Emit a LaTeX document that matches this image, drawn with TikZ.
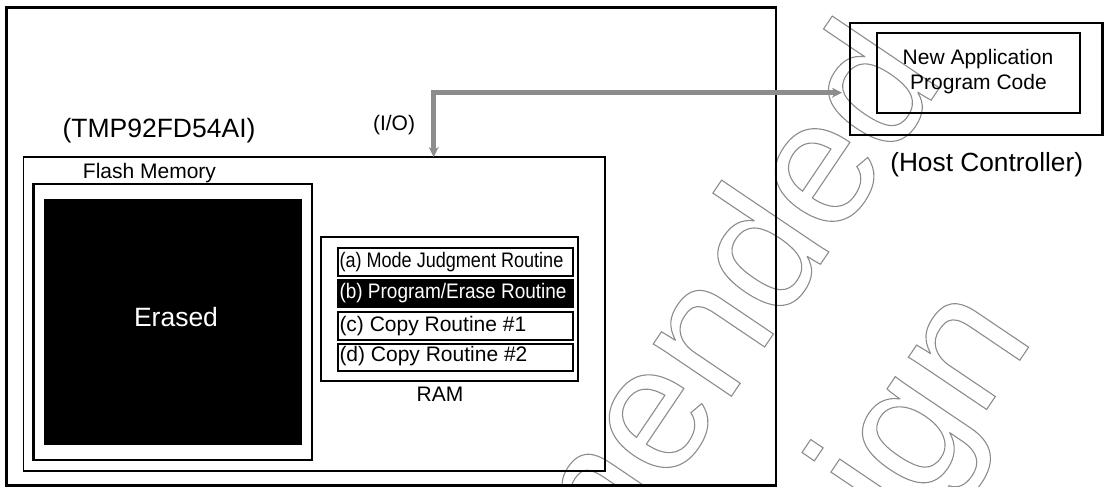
\documentclass[tikz,border=0pt]{standalone}
\usepackage{fontspec}
\setmainfont{Liberation Sans}
\usetikzlibrary{arrows.meta}
\newcommand\wmon{\special{pdf:literal 1 Tr 1.1 w}}
\newcommand\wmoff{\special{pdf:literal 0 Tr}}
\begin{document}
\begin{tikzpicture}[x=1pt,y=-1pt,
  rect/.style={inner sep=0pt, outer sep=0pt, anchor=north west},
  frame/.style={rect, draw=black, line width=2.2pt},
  chipbox/.style={rect, draw=black, line width=1.5pt},
  memframe/.style={rect, draw=black, line width=2.5pt},
  routine/.style={rect, draw=black, line width=2pt},
  codebox/.style={rect, draw=black, line width=1.3pt},
  lbl/.style={inner sep=0pt, anchor=base},
  rlbl/.style={inner sep=0pt, anchor=base west},
  fmid/.style={font=\fontsize{21}{25}\selectfont},
  fbig/.style={font=\fontsize{26.5}{31}\selectfont},
  wm/.style={inner sep=0pt, anchor=base west, rotate=56, text=black!45,
    font=\fontsize{178}{219}\selectfont},
  ioarrow/.style={draw=black!45, line width=4.5pt,
    {Stealth[length=10pt,width=10pt,inset=3pt]}-{Stealth[length=10pt,width=10pt,inset=3pt]}}
]
\useasboundingbox (0,0) rectangle (1104,487);

% watermark
\begin{scope}
\clip (0,0) rectangle (1104,487);
\node[wm] (wm1) at (88.5,1349.4) {\wmon Not Recommended\wmoff};
\node[wm] (wm2) at (354.7,1346.3) {\wmon for New Design\wmoff};
\end{scope}

% boxes
\node[frame, minimum width=769.5pt, minimum height=478pt] (board) at (6.5,7.5) {};
\node[chipbox, minimum width=581.5pt, minimum height=314pt] (chip) at (23.5,157) {};
\node[memframe, minimum width=278.5pt, minimum height=276pt] (flash) at (33.5,184) {};
\node[rect, fill=black, minimum width=258.5pt, minimum height=246pt] (erased) at (43.5,199) {};
\node[chipbox, line width=2pt, minimum width=256.5pt, minimum height=144pt] (ram) at (321,237) {};
\node[routine, minimum width=234.5pt, minimum height=27.5pt] (ra) at (338,248) {};
\node[routine, fill=black, minimum width=234.5pt, minimum height=27.5pt] (rb) at (338,279.5) {};
\node[routine, minimum width=234.5pt, minimum height=27.5pt] (rc) at (338,312) {};
\node[routine, minimum width=234.5pt, minimum height=27.5pt] (rd) at (338,343.5) {};
\node[memframe, minimum width=252.5pt, minimum height=112pt] (host) at (850,23) {};
\node[codebox, minimum width=203pt, minimum height=80pt] (code) at (877,33) {};

% labels
\node[lbl, fbig] (tmp) at (159,137) {(TMP92FD54AI)};
\node[lbl, fmid] (io) at (394,130) {(I/O)};
\node[lbl, fmid] (flashlbl) at (149.5,178) {Flash Memory};
\node[lbl, fbig, text=white] (erasedlbl) at (176,326) {Erased};
\node[lbl, fmid] (ramlbl) at (440,401.5) {RAM};
\node[lbl, fmid] (code1) at (978,65) {New Application};
\node[lbl, fmid] (code2) at (978.5,89) {Program Code};
\node[lbl, font=\fontsize{26.3}{31}\selectfont] (hostlbl) at (986.7,171.7) {(Host Controller)};
\node[rlbl, fmid] (ta) at (339.3,267.3) {\scalebox{0.86}[1]{(a) Mode Judgment Routine}};
\node[rlbl, fmid, text=white] (tb) at (339.3,298.3) {\scalebox{0.905}[1]{(b) Program/Erase Routine}};
\node[rlbl, fmid] (tc) at (339.3,331) {(c) Copy Routine \#1};
\node[rlbl, fmid] (td) at (339.3,361) {(d) Copy Routine \#2};

% I/O connector
\coordinate (chipEnd) at (433.7,157);
\coordinate (hostEnd) at (842,92.7);
\draw[ioarrow] (chipEnd) |- (hostEnd);
\end{tikzpicture}
\end{document}
